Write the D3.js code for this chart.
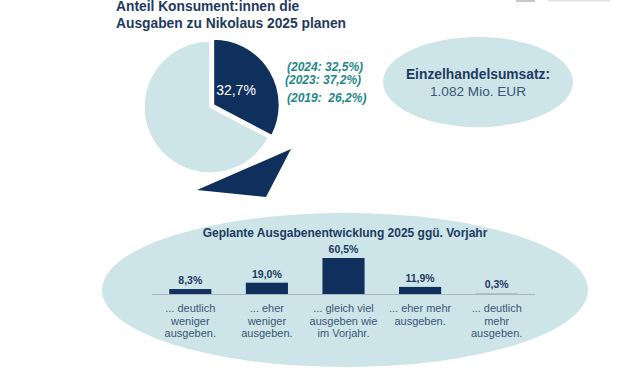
<!DOCTYPE html>
<html>
<head>
  <meta charset="utf-8">
  <title>Nikolaus 2025</title>
  <script src="https://d3js.org/d3.v7.min.js"></script>
  <style>
    body { margin: 0; background: #fff; }
    svg { display: block; font-family: "Liberation Sans", Arial, sans-serif; }
  </style>
</head>
<body>

  <svg></svg>

  <script>

    // Pie data: share of consumers who plan spending for Nikolaus 2025
    var pieLabels = ["planen Ausgaben", "keine Ausgaben"];
    var pieValues = [32.7, 67.3];

    // Comparison values of previous years
    var prevYears = ["2024", "2023", "2019"];
    var prevValues = [32.5, 37.2, 26.2];

    // Bar data: planned spending development
    var barCategories = ["deutlich weniger", "eher weniger", "gleich viel", "eher mehr", "deutlich mehr"];
    var barLabelLines = [
      ["... deutlich", "weniger", "ausgeben."],
      ["... eher", "weniger", "ausgeben."],
      ["... gleich viel", "ausgeben wie", "im Vorjahr."],
      ["... eher mehr", "ausgeben."],
      ["... deutlich", "mehr", "ausgeben."]
    ];
    var barValues = [8.3, 19.0, 60.5, 11.9, 0.3];

    var width = 630, height = 370;
    var navy = "#0f2f5c", light = "#cde5e8", teal = "#24878a", textNavy = "#1f3a60", textGrey = "#3a5677";

    var fmt = function(v) { return d3.format(".1f")(v).replace(".", ",") + "%"; };

    var svg = d3.select("svg")
        .attr("width", width)
        .attr("height", height);

    // faint cut-off logo remains in the top right corner
    svg.append("rect").attr("x", 516).attr("y", 0).attr("width", 19).attr("height", 2).attr("fill", "#c8c8c8");
    svg.append("rect").attr("x", 548).attr("y", 0).attr("width", 62).attr("height", 1.5).attr("fill", "#e2e2e2");

    // Title
    var title = svg.append("text")
        .attr("x", 116)
        .attr("font-size", "13.8px")
        .attr("font-weight", "bold")
        .attr("fill", textNavy);
    title.append("tspan").attr("x", 116).attr("y", 11).text("Anteil Konsument:innen die");
    title.append("tspan").attr("x", 116).attr("y", 28).text("Ausgaben zu Nikolaus 2025 planen");

    // Pie
    var cx = 210, cy = 107, r = 66;
    var pie = d3.pie().sort(null).value(function(d) { return d; });
    var arcs = pie(pieValues);
    var arc = d3.arc().innerRadius(0).outerRadius(r);

    var pieG = svg.append("g").attr("transform", "translate(" + cx + "," + cy + ")");

    pieG.selectAll("path")
      .data(arcs)
      .enter().append("path")
        .attr("d", arc)
        .attr("fill", function(d, i) { return i === 0 ? navy : light; })
        .attr("stroke", "#fff")
        .attr("stroke-width", 1.5)
        .attr("transform", function(d, i) {
          if (i !== 0) return null;
          var a = (d.startAngle + d.endAngle) / 2, off = 4;
          return "translate(" + (Math.sin(a) * off) + "," + (-Math.cos(a) * off) + ")";
        });

    // Value label on the highlighted slice
    pieG.append("text")
        .attr("x", 26)
        .attr("y", -12)
        .attr("text-anchor", "middle")
        .attr("font-size", "14px")
        .attr("fill", "#fff")
        .text(fmt(pieValues[0]));

    // Dark triangle below the pie (leftover connector shape)
    var tri = [[81, 42], [-13, 83], [56, 90]];
    pieG.append("path")
        .attr("d", d3.line()(tri) + "Z")
        .attr("fill", navy);

    // Previous year values
    var prevY = [71, 84, 102];
    var prevX = [287, 285, 287];
    svg.selectAll(".prev")
      .data(prevYears)
      .enter().append("text")
        .attr("class", "prev")
        .attr("x", function(d, i) { return prevX[i]; })
        .attr("y", function(d, i) { return prevY[i]; })
        .attr("font-size", "12px")
        .attr("font-weight", "bold")
        .attr("font-style", "italic")
        .attr("fill", teal)
        .style("white-space", "pre")
        .text(function(d, i) { return "(" + d + ":" + (i === 2 ? "  " : " ") + fmt(prevValues[i]) + ")"; });

    // Retail sales ellipse
    svg.append("ellipse")
        .attr("cx", 478).attr("cy", 82).attr("rx", 95).attr("ry", 45)
        .attr("fill", light);
    svg.append("text")
        .attr("x", 478).attr("y", 79)
        .attr("text-anchor", "middle")
        .attr("font-size", "13.8px")
        .attr("font-weight", "bold")
        .attr("fill", textNavy)
        .text("Einzelhandelsumsatz:");
    svg.append("text")
        .attr("x", 478).attr("y", 96)
        .attr("text-anchor", "middle")
        .attr("font-size", "13.6px")
        .attr("fill", textGrey)
        .text("1.082 Mio. EUR");

    // Bottom ellipse with bar chart
    svg.append("ellipse")
        .attr("cx", 345).attr("cy", 290).attr("rx", 243).attr("ry", 77)
        .attr("fill", light);

    svg.append("text")
        .attr("x", 345).attr("y", 237)
        .attr("text-anchor", "middle")
        .attr("font-size", "12px")
        .attr("font-weight", "bold")
        .attr("fill", textNavy)
        .text("Geplante Ausgabenentwicklung 2025 ggü. Vorjahr");

    var x = d3.scaleBand()
        .domain(barCategories)
        .range([152, 535])
        .paddingInner(0.45)
        .paddingOuter(0.225);

    var y = d3.scaleLinear()
        .domain([0, 60.5])
        .range([294, 258]);

    var bars = svg.append("g");

    bars.selectAll("rect")
      .data(barValues)
      .enter().append("rect")
        .attr("x", function(d, i) { return x(barCategories[i]); })
        .attr("y", function(d) { return y(d); })
        .attr("width", x.bandwidth())
        .attr("height", function(d) { return Math.max(1, y(0) - y(d)); })
        .attr("fill", navy);

    // baseline
    svg.append("line")
        .attr("x1", x.range()[0]).attr("x2", x.range()[1])
        .attr("y1", y(0) + 0.5).attr("y2", y(0) + 0.5)
        .attr("stroke", "#a9b4bc")
        .attr("stroke-width", 1);

    bars.selectAll(".val")
      .data(barValues)
      .enter().append("text")
        .attr("class", "val")
        .attr("x", function(d, i) { return x(barCategories[i]) + x.bandwidth() / 2; })
        .attr("y", function(d) { return Math.min(y(d), y(0) - 1) - 5; })
        .attr("text-anchor", "middle")
        .attr("font-size", "10.5px")
        .attr("font-weight", "bold")
        .attr("fill", textNavy)
        .text(fmt);

    var cats = bars.selectAll(".cat")
      .data(barLabelLines)
      .enter().append("text")
        .attr("class", "cat")
        .attr("text-anchor", "middle")
        .attr("font-size", "11px")
        .attr("fill", textGrey);

    cats.selectAll("tspan")
      .data(function(d, i) { return d.map(function(t) { return {t: t, i: i}; }); })
      .enter().append("tspan")
        .attr("x", function(d) { return x(barCategories[d.i]) + x.bandwidth() / 2; })
        .attr("y", function(d, j) { return 312 + j * 12.5; })
        .text(function(d) { return d.t; });

  </script>

</body>
</html>
